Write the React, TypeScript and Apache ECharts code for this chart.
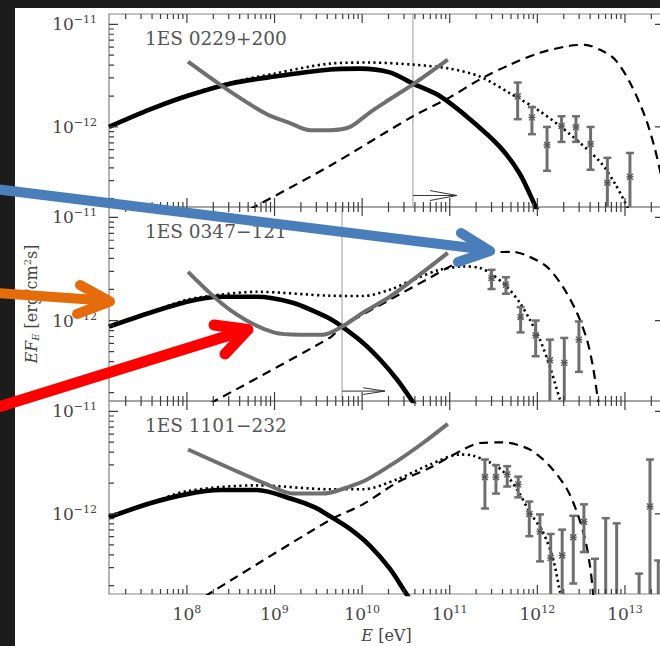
import React, { useEffect, useRef } from 'react';
import * as echarts from 'echarts';

// ---------- axis ranges & ticks ----------
const E_MIN = 1.29e7;
const E_MAX = 2.79e13;
const F_MIN = 1.66e-13;
const F_MAX = 1.26e-11;

const E_MAJOR = [1e8, 1e9, 1e10, 1e11, 1e12, 1e13];
const E_MAJOR_LABELS = ['8', '9', '10', '11', '12', '13'];
const F_MAJOR = [1e-12, 1e-11];
const F_MAJOR_LABELS = ['−12', '−11'];
const E_DECADES = [7, 8, 9, 10, 11, 12, 13];
const F_DECADES = [-13, -12, -11];
const MINOR_STEPS = [2, 3, 4, 5, 6, 7, 8, 9];

const SOURCE_NAMES = ['1ES 0229+200', '1ES 0347−121', '1ES 1101−232'];

// ---------- panel 1 : 1ES 0229+200 ----------
const P1_SOLID = [[1.29e7, 1.0e-12], [3.8e7, 1.48e-12], [1e8, 2.0e-12], [3.1e8, 2.64e-12], [1e9, 3.1e-12], [4.3e9, 3.63e-12], [9.4e9, 3.7e-12], [2.07e10, 3.4e-12], [3.8e10, 2.64e-12], [7.7e10, 2.0e-12], [1.7e11, 1.19e-12], [3.74e11, 6.4e-13], [6.3e11, 3.5e-13], [9.4e11, 1.72e-13], [1.05e12, 1.4e-13]];
const P1_DOTTED = [[1.29e7, 1.0e-12], [3.8e7, 1.5e-12], [1e8, 2.04e-12], [3.1e8, 2.7e-12], [1e9, 3.31e-12], [4.3e9, 4.14e-12], [1.23e10, 4.24e-12], [3.8e10, 4.05e-12], [1e11, 3.7e-12], [2.2e11, 3.1e-12], [4.9e11, 2.12e-12], [1.07e12, 1.42e-12], [2.35e12, 8.5e-13], [5.2e12, 4.57e-13], [7.7e12, 2.8e-13], [1.08e13, 1.62e-13]];
const P1_DASHED = [[5.2e8, 1.57e-13], [4.3e9, 4.19e-13], [3.8e10, 1.27e-12], [1e11, 1.94e-12], [2.2e11, 2.9e-12], [4.9e11, 4.05e-12], [1.07e12, 5.28e-12], [2.35e12, 6.18e-12], [3.5e12, 6.3e-12], [5.2e12, 5.65e-12], [7.7e12, 4.53e-12], [1.14e13, 2.71e-12], [1.69e13, 1.27e-12], [2.2e13, 6.1e-13], [2.63e13, 3.13e-13]];
const P1_GRAY = [[1.03e8, 4.33e-12], [3.1e8, 2.22e-12], [8.2e8, 1.33e-12], [1.5e9, 1.09e-12], [2.54e9, 9.3e-13], [4.3e9, 9.3e-13], [7.3e9, 1.0e-12], [1.23e10, 1.39e-12], [2.07e10, 1.86e-12], [3.8e10, 2.6e-12], [9.5e10, 4.53e-12]];
// [E, F, F_low, F_high]
const P1_POINTS = [[5.96e11, 1.99e-12, 1.19e-12, 2.71e-12], [8.67e11, 1.24e-12, 8.5e-13, 1.56e-12], [1.29e12, 6.68e-13, 3.74e-13, 1.0e-12], [1.89e12, 1.02e-12, 7.15e-13, 1.27e-12], [2.76e12, 1.0e-12, 7.15e-13, 1.27e-12], [4.05e12, 6.83e-13, 3.83e-13, 1.0e-12], [6.3e12, 2.86e-13, 1e-13, 5.0e-13], [1.14e13, 3.27e-13, 1e-13, 5.58e-13]];
const P1_VLINE = 3.8e10;
const P1_SHAFT = [[3.8e10, 2.15e-13], [1.21e11, 2.15e-13]];
const P1_HEAD = [[5.94e10, 2.4e-13], [1.21e11, 2.15e-13], [5.94e10, 1.92e-13]];

// ---------- panel 2 : 1ES 0347-121 ----------
const P2_SOLID = [[1.29e7, 8.73e-13], [3.8e7, 1.19e-12], [1e8, 1.52e-12], [2.38e8, 1.70e-12], [6.3e8, 1.70e-12], [1.62e9, 1.49e-12], [2.89e9, 1.22e-12], [4.3e9, 1.04e-12], [5.9e9, 8.73e-13], [1.02e10, 6.1e-13], [1.6e10, 4.19e-13], [2.5e10, 2.68e-13], [3.7e10, 1.68e-13], [4.33e10, 1.38e-13]];
const P2_DOTTED = [[1.29e7, 8.9e-13], [3.8e7, 1.2e-12], [1e8, 1.59e-12], [2.38e8, 1.78e-12], [6.3e8, 1.9e-12], [4.3e9, 1.74e-12], [1.02e10, 1.73e-12], [2.07e10, 1.99e-12], [3.8e10, 2.48e-12], [7.7e10, 3.1e-12], [1.42e11, 3.34e-12], [2.2e11, 3.24e-12], [3.11e11, 2.77e-12], [4.5e11, 2.12e-12], [6.3e11, 1.49e-12], [8.2e11, 1.02e-12], [1.07e12, 6.53e-13], [1.39e12, 3.58e-13], [1.81e12, 1.72e-13], [1.95e12, 1.5e-13]];
const P2_DASHED = [[1.83e8, 1.57e-13], [4.3e9, 6.83e-13], [5.9e9, 8.73e-13], [2.07e10, 1.59e-12], [5.94e10, 2.6e-12], [1.42e11, 3.87e-12], [2.88e11, 4.53e-12], [5.26e11, 4.63e-12], [8.2e11, 4.14e-12], [1.29e12, 3.31e-12], [1.96e12, 2.12e-12], [2.83e12, 1.19e-12], [3.68e12, 6.53e-13], [4.31e12, 3.58e-13], [4.92e12, 1.72e-13], [5.2e12, 1.4e-13]];
const P2_GRAY = [[1.03e8, 2.96e-12], [3.1e8, 1.27e-12], [1e9, 7.64e-13], [1.95e9, 7.3e-13], [3.57e9, 7.3e-13], [5.9e9, 8.73e-13], [1.02e10, 1.19e-12], [2.07e10, 1.70e-12], [4.2e10, 2.65e-12], [9.5e10, 4.53e-12]];
const P2_POINTS = [[3.0e11, 2.58e-12, 2.02e-12, 3.1e-12], [4.38e11, 2.22e-12, 1.82e-12, 2.63e-12], [6.44e11, 1.08e-12, 7.67e-13, 1.35e-12], [9.57e11, 7.19e-13, 4.51e-13, 1.0e-12], [1.39e12, 4.12e-13, 1e-13, 6.53e-13], [2.03e12, 3.89e-13, 1e-13, 6.78e-13], [2.98e12, 6.53e-13, 3.18e-13, 9.8e-13]];
const P2_VLINE = 5.9e9;
const P2_SHAFT = [[5.9e9, 2.07e-13], [1.82e10, 2.07e-13]];
const P2_HEAD = [[1.03e10, 2.23e-13], [1.82e10, 2.07e-13], [1.03e10, 1.92e-13]];

// ---------- panel 3 : 1ES 1101-232 ----------
const P3_SOLID = [[1.29e7, 9.27e-13], [3.8e7, 1.27e-12], [1e8, 1.56e-12], [2.38e8, 1.71e-12], [6.3e8, 1.71e-12], [1.62e9, 1.39e-12], [2.89e9, 1.16e-12], [4.3e9, 9.5e-13], [7.27e9, 7.14e-13], [1.23e10, 4.89e-13], [2.07e10, 2.93e-13], [3.08e10, 1.75e-13], [3.52e10, 1.47e-13]];
const P3_DOTTED = [[1.29e7, 9.6e-13], [3.8e7, 1.28e-12], [1e8, 1.67e-12], [6.3e8, 1.9e-12], [4.3e9, 1.74e-12], [1.02e10, 1.74e-12], [2.5e10, 2.17e-12], [5.94e10, 3.03e-12], [1.31e11, 3.79e-12], [1.84e11, 3.7e-12], [2.88e11, 3.17e-12], [4.05e11, 2.61e-12], [5.85e11, 1.74e-12], [8.2e11, 1.04e-12], [1.16e12, 6.64e-13], [1.51e12, 3.66e-13], [1.81e12, 1.75e-13], [1.9e12, 1.5e-13]];
const P3_DASHED = [[1.6e8, 1.57e-13], [4.3e9, 8.73e-13], [1.02e10, 1.24e-12], [2.5e10, 2.02e-12], [5.94e10, 2.82e-12], [1.42e11, 4.24e-12], [2.2e11, 4.91e-12], [4.05e11, 4.98e-12], [8.2e11, 4.24e-12], [1.39e12, 2.92e-12], [2.18e12, 1.74e-12], [2.83e12, 1.04e-12], [3.5e12, 5.71e-13], [3.98e12, 3.16e-13], [4.31e12, 1.75e-13], [4.4e12, 1.4e-13]];
const P3_GRAY = [[1.03e8, 4.24e-12], [8.2e8, 1.94e-12], [1.62e9, 1.58e-12], [3.3e9, 1.58e-12], [4.3e9, 1.61e-12], [6.7e9, 1.81e-12], [1.14e10, 2.17e-12], [2.5e10, 3.27e-12], [4.94e10, 4.91e-12], [9.5e10, 7.55e-12]];
const P3_POINTS = [[2.52e11, 2.29e-12, 1.13e-12, 3.39e-12], [3.37e11, 2.29e-12, 1.58e-12, 2.99e-12], [4.53e11, 2.43e-12, 1.85e-12, 2.92e-12], [6.05e11, 1.94e-12, 1.45e-12, 2.31e-12], [8.09e11, 1.0e-12, 6.07e-13, 1.32e-12], [1.07e12, 6.73e-13, 3.45e-13, 9.9e-13], [1.42e12, 3.72e-13, 1e-13, 6.38e-13], [1.92e12, 3.94e-13, 1e-13, 7.03e-13], [2.57e12, 5.93e-13, 2.1e-13, 9.6e-13], [3.4e12, 8.4e-13, 4.25e-13, 1.24e-12], [4.55e12, 1.2e-13, 1e-13, 3.66e-13], [6.03e12, 1.2e-13, 1e-13, 9.1e-13], [8.04e12, 1.2e-13, 1e-13, 8.1e-13], [1.45e13, 1.2e-13, 1e-13, 2.62e-13], [1.93e13, 1.18e-12, 1e-13, 3.39e-12], [2.4e13, 1.2e-13, 1e-13, 3.52e-13]];

// ---------- layout ----------
const GRID_LEFT = 109;
const GRID_WIDTH = 555;
const GRID_TOP = [14, 207, 401];
const GRID_HEIGHT = [193, 194, 193];

// tick lengths, expressed as ratios along each log axis (about 9 px and 5 px)
const TICK_F_MAJOR = 1.224;
const TICK_F_MINOR = 1.119;
const TICK_E_MAJOR = 1.268;
const TICK_E_MINOR = 1.141;

const FONT = 'DejaVu Serif';
const AXIS_COLOR = '#858585';
const TICK_COLOR = '#3c3c3c';
const LABEL_COLOR = '#444444';
const GRAY = '#6f6f6f';

function minorValues(decades: number[], lo: number, hi: number) {
  const out: number[] = [];
  decades.forEach((d) => MINOR_STEPS.forEach((k) => {
    const v = k * Math.pow(10, d);
    if (v > lo && v < hi) out.push(v);
  }));
  return out;
}
const E_MINOR = minorValues(E_DECADES, E_MIN, E_MAX);
const F_MINOR = minorValues(F_DECADES, F_MIN, F_MAX);

function nearestIndex(arr: number[], v: number) {
  let best = 0;
  for (let i = 1; i < arr.length; i++) {
    if (Math.abs(Math.log10(arr[i] / v)) < Math.abs(Math.log10(arr[best] / v))) best = i;
  }
  return best;
}

const tickRich = {
  b: { fontFamily: FONT, fontSize: 17, color: LABEL_COLOR },
  s: { fontFamily: FONT, fontSize: 11, color: LABEL_COLOR, padding: [0, 0, 9, 0] },
};

const PANELS = [
  { solid: P1_SOLID, dotted: P1_DOTTED, dashed: P1_DASHED, gray: P1_GRAY, points: P1_POINTS, vline: P1_VLINE, shaft: P1_SHAFT, head: P1_HEAD },
  { solid: P2_SOLID, dotted: P2_DOTTED, dashed: P2_DASHED, gray: P2_GRAY, points: P2_POINTS, vline: P2_VLINE, shaft: P2_SHAFT, head: P2_HEAD },
  { solid: P3_SOLID, dotted: P3_DOTTED, dashed: P3_DASHED, gray: P3_GRAY, points: P3_POINTS, vline: null, shaft: null, head: null },
];

function buildOption() {
  const grid: any[] = [];
  const xAxis: any[] = [];
  const yAxis: any[] = [];
  const series: any[] = [];

  PANELS.forEach((panel, p) => {
    grid.push({
      left: GRID_LEFT, top: GRID_TOP[p], width: GRID_WIDTH, height: GRID_HEIGHT[p],
      containLabel: false, outerBoundsMode: 'none',
      show: true, borderColor: AXIS_COLOR, borderWidth: 1.2, backgroundColor: 'transparent',
    });

    const showXLabels = p === 2;
    xAxis.push({
      type: 'log', gridIndex: p, min: E_MIN, max: E_MAX, position: 'bottom',
      splitLine: { show: false },
      axisLine: { show: false },
      axisTick: { show: false },
      axisLabel: showXLabels
        ? {
            show: true,
            customValues: E_MAJOR,
            margin: 10,
            formatter: (v: number) => `{b|10}{s|${E_MAJOR_LABELS[nearestIndex(E_MAJOR, v)]}}`,
            rich: tickRich,
          }
        : { show: false },
      name: showXLabels ? '{i|E} [eV]' : '',
      nameLocation: 'middle',
      nameGap: 33,
      nameTextStyle: {
        fontFamily: FONT, fontSize: 16, color: LABEL_COLOR,
        rich: { i: { fontFamily: FONT, fontSize: 16, fontStyle: 'italic', color: LABEL_COLOR } },
      },
    });

    const isMiddle = p === 1;
    yAxis.push({
      type: 'log', gridIndex: p, min: F_MIN, max: F_MAX, position: 'left',
      splitLine: { show: false },
      axisLine: { show: false },
      axisTick: { show: false },
      axisLabel: {
        show: true,
        customValues: F_MAJOR,
        margin: 12,
        formatter: (v: number) => `{b|10}{s|${F_MAJOR_LABELS[nearestIndex(F_MAJOR, v)]}}`,
        rich: tickRich,
      },
      name: isMiddle ? '{i|EF}{sub|E} [erg/cm{sup|2}s]' : '',
      nameLocation: 'middle',
      nameGap: 69,
      nameTextStyle: {
        fontFamily: FONT, fontSize: 16, color: LABEL_COLOR,
        rich: {
          i: { fontFamily: FONT, fontSize: 16, fontStyle: 'italic', color: LABEL_COLOR },
          sub: { fontFamily: FONT, fontSize: 10, fontStyle: 'italic', color: LABEL_COLOR, padding: [8, 0, 0, 0] },
          sup: { fontFamily: FONT, fontSize: 10, color: LABEL_COLOR, padding: [0, 0, 8, 0] },
        },
      },
    });

    const line = (data: any, lineStyle: any, z: number, smooth: any = 0.3) => ({
      type: 'line', xAxisIndex: p, yAxisIndex: p, data,
      symbol: 'none', showSymbol: false, smooth, clip: true, silent: true, z, lineStyle,
    });

    // inside tick marks on the frame, each a short segment on the log axes
    const tickStyle = { color: TICK_COLOR, width: 1.2 };
    E_MAJOR.forEach((v) => {
      series.push(line([[v, F_MIN], [v, F_MIN * TICK_F_MAJOR]], tickStyle, 7, false));
      series.push(line([[v, F_MAX], [v, F_MAX / TICK_F_MAJOR]], tickStyle, 7, false));
    });
    E_MINOR.forEach((v) => {
      series.push(line([[v, F_MIN], [v, F_MIN * TICK_F_MINOR]], tickStyle, 7, false));
      series.push(line([[v, F_MAX], [v, F_MAX / TICK_F_MINOR]], tickStyle, 7, false));
    });
    F_MAJOR.forEach((v) => {
      series.push(line([[E_MIN, v], [E_MIN * TICK_E_MAJOR, v]], tickStyle, 7, false));
      series.push(line([[E_MAX, v], [E_MAX / TICK_E_MAJOR, v]], tickStyle, 7, false));
    });
    F_MINOR.forEach((v) => {
      series.push(line([[E_MIN, v], [E_MIN * TICK_E_MINOR, v]], tickStyle, 7, false));
    });

    if (panel.vline !== null) {
      series.push(line([[panel.vline, F_MIN], [panel.vline, F_MAX]], { color: '#9a9a9a', width: 1 }, 1, false));
      series.push(line(panel.shaft, { color: '#333', width: 1 }, 1, false));
      series.push(line(panel.head, { color: '#333', width: 1 }, 1, false));
    }
    series.push(line(panel.dashed, { color: '#000', width: 2.2, type: [9, 6] }, 3));
    series.push(line(panel.dotted, { color: '#000', width: 2.6, type: [2.2, 3.4] }, 3));
    series.push(line(panel.solid, { color: '#000', width: 4.6 }, 4));
    series.push(line(panel.gray, { color: GRAY, width: 4 }, 5));
    series.push({
      type: 'custom', xAxisIndex: p, yAxisIndex: p, clip: true, silent: true, z: 6,
      data: panel.points,
      encode: { x: 0, y: [1, 2, 3] },
      renderItem: (params: any, api: any) => {
        const e = api.value(0);
        const pc = api.coord([e, api.value(1)]);
        const pl = api.coord([e, api.value(2)]);
        const ph = api.coord([e, api.value(3)]);
        const x = pc[0];
        const st = { stroke: GRAY, lineWidth: 3 };
        const cap = { stroke: GRAY, lineWidth: 2.5 };
        const mk = { stroke: '#555', lineWidth: 1.3 };
        return {
          type: 'group',
          children: [
            { type: 'line', shape: { x1: x, y1: pl[1], x2: x, y2: ph[1] }, style: st },
            { type: 'line', shape: { x1: x - 4, y1: ph[1], x2: x + 4, y2: ph[1] }, style: cap },
            { type: 'line', shape: { x1: x - 4, y1: pl[1], x2: x + 4, y2: pl[1] }, style: cap },
            { type: 'line', shape: { x1: x - 3, y1: pc[1] - 3, x2: x + 3, y2: pc[1] + 3 }, style: mk },
            { type: 'line', shape: { x1: x - 3, y1: pc[1] + 3, x2: x + 3, y2: pc[1] - 3 }, style: mk },
            { type: 'line', shape: { x1: x - 3.5, y1: pc[1], x2: x + 3.5, y2: pc[1] }, style: mk },
          ],
        };
      },
    });
  });

  const arrow = (color: string, lw: number, shaft: number[], head: number[][]) => [
    { type: 'line', z: 300, silent: true, shape: { x1: shaft[0], y1: shaft[1], x2: shaft[2], y2: shaft[3] }, style: { stroke: color, lineWidth: lw, lineCap: 'round' } },
    { type: 'polyline', z: 300, silent: true, shape: { points: head }, style: { stroke: color, lineWidth: lw, lineCap: 'round', lineJoin: 'round', fill: null } },
  ];

  const graphic: any[] = [
    { type: 'rect', z: 200, silent: true, shape: { x: 0, y: 0, width: 660, height: 8 }, style: { fill: '#1c1c1c' } },
    { type: 'rect', z: 200, silent: true, shape: { x: 0, y: 0, width: 15, height: 646 }, style: { fill: '#1c1c1c' } },
    ...SOURCE_NAMES.map((name, p) => ({
      type: 'text', z: 100, silent: true,
      left: 145, top: GRID_TOP[p] + 15,
      style: { text: name, fontFamily: FONT, fontSize: 18.5, fill: '#555555' },
    })),
    ...arrow('#4a7ebb', 10, [-5, 189, 484, 249.5], [[461, 233], [490, 251], [458, 262]]),
    ...arrow('#e46c0a', 10, [-5, 293, 104, 300.5], [[80, 285], [110, 301.5], [77, 314]]),
    ...arrow('#ff0000', 11, [-5, 408, 243, 331], [[214, 325], [248, 329.5], [225, 354]]),
  ];

  return {
    animation: false,
    backgroundColor: '#ffffff',
    textStyle: { fontFamily: FONT },
    grid, xAxis, yAxis, series, graphic,
  };
}

export default function App() {
  const ref = useRef<HTMLDivElement>(null);
  useEffect(() => {
    if (!ref.current) return;
    const chart = echarts.init(ref.current, undefined, { renderer: 'svg' });
    chart.setOption(buildOption() as any);
    return () => chart.dispose();
  }, []);
  return <div ref={ref} style={{ position: 'absolute', left: 0, top: 0, width: 660, height: 646 }} />;
}
